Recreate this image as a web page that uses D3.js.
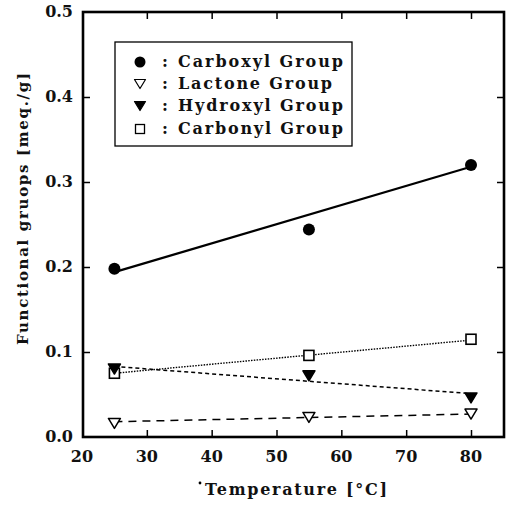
<!DOCTYPE html>
<html><head><meta charset="utf-8">
<script src="https://cdn.jsdelivr.net/npm/d3@7"></script>
<style>body{margin:0;background:#fff}svg{display:block}
text{font-family:"DejaVu Serif",serif;fill:#111}</style></head>
<body><svg id="c" width="511" height="506"></svg>
<script>
const temps=[25,55,80];
const carboxyl=[0.198,0.244,0.320];
const lactone=[0.016,0.023,0.027];
const hydroxyl=[0.080,0.072,0.046];
const carbonyl=[0.075,0.096,0.115];
// fitted line end values (at 25 and 80 °C)
const carboxylFit=[0.194,0.318];
const lactoneFit=[0.018,0.027];
const hydroxylFit=[0.083,0.051];
const carbonylFit=[0.075,0.114];
const xTicks=[20,30,40,50,60,70,80];
const yTicks=[0.0,0.1,0.2,0.3,0.4,0.5];
const legendLabels=["Carboxyl Group","Lactone Group","Hydroxyl Group","Carbonyl Group"];

const svg=d3.select("#c");
const L=83,R=504,T=12,B=437;
const x=d3.scaleLinear().domain([20,80]).range([82,471]);
const y=d3.scaleLinear().domain([0,0.5]).range([B,T]);

// frame
svg.append("rect").attr("x",L).attr("y",T).attr("width",R-L).attr("height",B-T)
 .attr("fill","none").attr("stroke","#000").attr("stroke-width",2.6);

// ticks inside
const tk=7;
const clean=g=>{g.select(".domain").remove();g.selectAll("line").attr("stroke-width",1.5);};
svg.append("g").attr("transform",`translate(0,${B})`).call(d3.axisBottom(x).tickValues(xTicks.slice(1)).tickSize(-tk).tickFormat("")).call(clean);
svg.append("g").attr("transform",`translate(0,${T})`).call(d3.axisTop(x).tickValues(xTicks.slice(1)).tickSize(-tk).tickFormat("")).call(clean);
svg.append("g").attr("transform",`translate(${L},0)`).call(d3.axisLeft(y).tickValues(yTicks.slice(1,5)).tickSize(-tk).tickFormat("")).call(clean);
svg.append("g").attr("transform",`translate(${R},0)`).call(d3.axisRight(y).tickValues(yTicks.slice(1,5)).tickSize(-tk).tickFormat("")).call(clean);

// tick labels
svg.append("g").selectAll("text").data(xTicks).join("text")
 .attr("x",d=>x(d)).attr("y",462).attr("text-anchor","middle")
 .attr("font-size",16).attr("font-weight","bold").text(d=>d);
svg.append("g").selectAll("text").data(yTicks).join("text")
 .attr("x",73).attr("y",d=>y(d)+5).attr("text-anchor","end")
 .attr("font-size",16).attr("font-weight","bold").text(d=>d.toFixed(1));

// axis titles
svg.append("text").attr("x",205).attr("y",495).attr("font-weight","bold")
 .attr("font-size",16).attr("textLength",182).attr("lengthAdjust","spacing").text("Temperature [°C]");
svg.append("circle").attr("cx",200).attr("cy",483).attr("r",1.4).attr("fill","#000");
svg.append("text").attr("transform",`translate(28,345) rotate(-90)`).attr("font-weight","bold")
 .attr("font-size",15).attr("textLength",272).attr("lengthAdjust","spacing")
 .text("Functional gruops [meq./g]");

// fit lines
const fx=[25,80];
function fit(vals,dash,w){
 svg.append("line").attr("x1",x(fx[0])).attr("y1",y(vals[0])).attr("x2",x(fx[1])).attr("y2",y(vals[1]))
  .attr("stroke","#000").attr("stroke-width",w).attr("stroke-dasharray",dash);
}
fit(carboxylFit,null,2.2);
fit(lactoneFit,"8,6",1.5);
fit(hydroxylFit,"4,3",1.5);
fit(carbonylFit,"1.5,1.3",1.4);

// markers
function triPath(w,h){return `M${-w/2},${-h/2}L${w/2},${-h/2}L0,${h/2}Z`;}
function markers(vals,kind){
 const g=svg.append("g");
 vals.forEach((v,i)=>{
  const cx=x(temps[i]),cy=y(v);
  if(kind==="circle") g.append("circle").attr("cx",cx).attr("cy",cy).attr("r",6).attr("fill","#000");
  else if(kind==="square") g.append("rect").attr("x",cx-5).attr("y",cy-5).attr("width",10).attr("height",10).attr("fill","#fff").attr("stroke","#000").attr("stroke-width",1.6);
  else g.append("path").attr("d",triPath(12,10)).attr("transform",`translate(${cx},${cy})`)
   .attr("fill",kind==="tri-open"?"#fff":"#000").attr("stroke","#000").attr("stroke-width",1.5).attr("stroke-linejoin","round");
 });
}
markers(carbonyl,"square");
markers(lactone,"tri-open");
markers(hydroxyl,"tri-fill");
markers(carboxyl,"circle");

// legend
svg.append("rect").attr("x",115).attr("y",42).attr("width",237).attr("height",104)
 .attr("fill","#fff").attr("stroke","#000").attr("stroke-width",1.3);
const kinds=["circle","tri-open","tri-fill","square"];
const ly=[62,84,106,129];
const lw=[165,154,165,165];
legendLabels.forEach((t,i)=>{
 const cx=140,cy=ly[i];
 const k=kinds[i];
 if(k==="circle") svg.append("circle").attr("cx",cx).attr("cy",cy).attr("r",5.5).attr("fill","#000");
 else if(k==="square") svg.append("rect").attr("x",cx-4.5).attr("y",cy-4.5).attr("width",9).attr("height",9).attr("fill","#fff").attr("stroke","#000").attr("stroke-width",1.3);
 else svg.append("path").attr("d",triPath(11,9)).attr("transform",`translate(${cx},${cy})`)
   .attr("fill",k==="tri-open"?"#fff":"#000").attr("stroke","#000").attr("stroke-width",1.2).attr("stroke-linejoin","round");
 svg.append("text").attr("x",162).attr("y",cy+5).attr("font-size",16).attr("font-weight","bold").text(":");
 svg.append("text").attr("x",178).attr("y",cy+5).attr("font-size",16).attr("font-weight","bold")
  .attr("textLength",lw[i]).attr("lengthAdjust","spacing").text(t);
});
</script></body></html>
